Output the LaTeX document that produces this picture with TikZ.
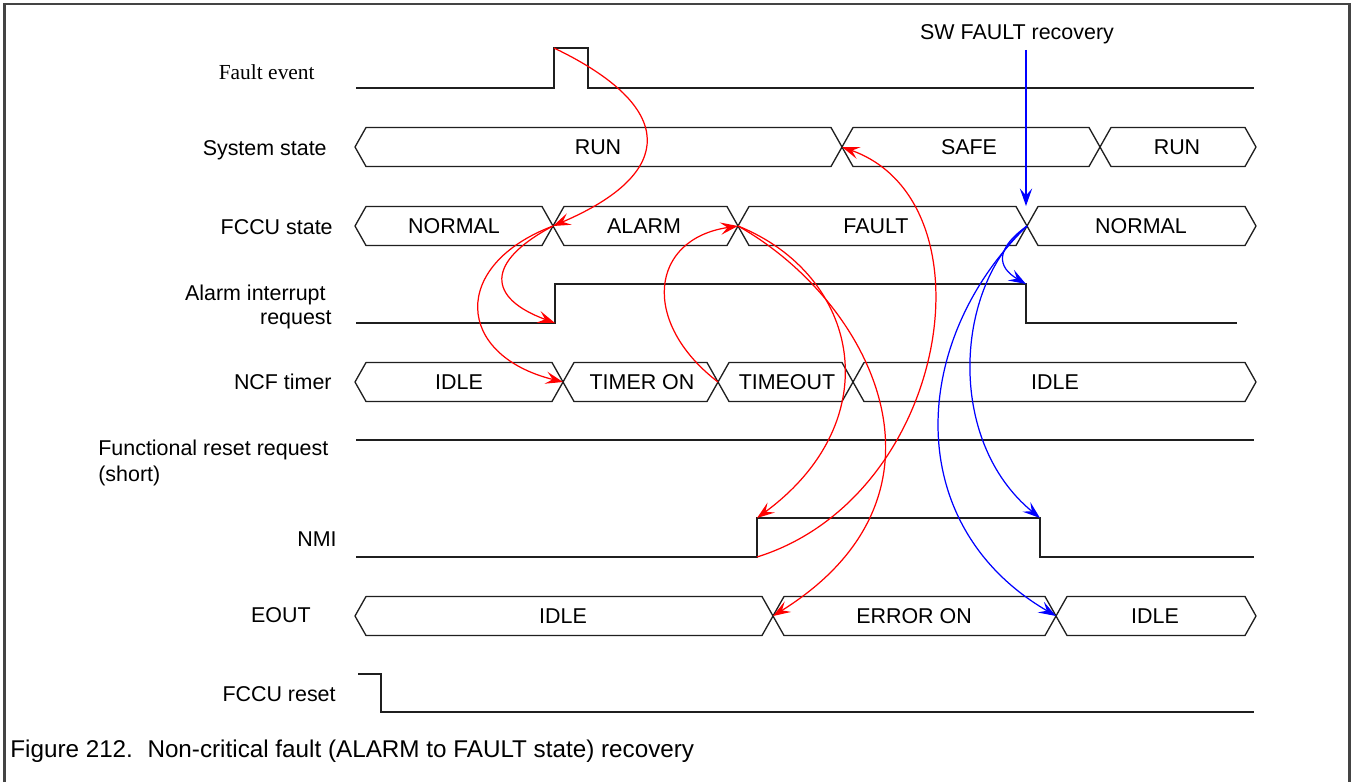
\documentclass[tikz,border=0pt]{standalone}
\usepackage{fontspec}
\setmainfont{Liberation Sans}
\newfontfamily\serifface{Liberation Serif}
\usetikzlibrary{arrows.meta}
\definecolor{framegray}{RGB}{68,68,68}

% geometry of a bus (hexagon) segment
\newcommand\busslant{11}
\newcommand\bushalf{19.5}
% #1 name, #2 left x, #3 right x, #4 centre y, #5 text x, #6 text
\newcommand\busstate[6]{%
  \draw[busline] (#2,#4) -- ({#2+\busslant},{#4-\bushalf}) -- ({#3-\busslant},{#4-\bushalf})
    -- (#3,#4) -- ({#3-\busslant},{#4+\bushalf}) -- ({#2+\busslant},{#4+\bushalf}) -- cycle;
  \node[statetext] (#1) at (#5,{#4+7.5}) {#6};
}

\begin{document}
\begin{tikzpicture}[x=0.02cm,y=-0.02cm,
  sig/.style={line width=0.8pt, draw=black!88, line join=miter},
  busline/.style={line width=0.75pt, draw=black!88, line join=round},
  statetext/.style={font=\fontsize{12.2}{14}\selectfont, inner sep=0pt, anchor=base},
  lbl/.style={font=\fontsize{12.2}{14}\selectfont, inner sep=0pt, anchor=base east},
  tip/.style={-{Stealth[length=10pt,width=7pt,inset=4pt]}},
  cause/.style={tip, draw=red, line width=0.7pt},
  recov/.style={tip, draw=blue, line width=0.7pt},
  frame/.style={draw=framegray, line width=1.4pt},
]
\useasboundingbox (0,0) rectangle (1352,782);
\fill[white] (0,0) rectangle (1352,782);

% outer frame
\draw[frame] (4.5,782) -- (4.5,4) -- (1349.5,4) -- (1349.5,782);

% signal names
\node[lbl, font=\serifface\fontsize{12.2}{14}\selectfont] (nFault) at (315,79.5) {Fault event};
\node[lbl] (nSys) at (327,155) {System state};
\node[lbl] (nFccu) at (333,234) {FCCU state};
\node[lbl] (nAir1) at (326,300) {Alarm interrupt};
\node[lbl] (nAir2) at (332,324) {request};
\node[lbl] (nNcf) at (332,389.5) {NCF timer};
\node[lbl, anchor=base west] (nFrr1) at (98,455) {Functional reset request};
\node[lbl, anchor=base west] (nFrr2) at (98,481) {(short)};
\node[lbl] (nNmi) at (337,546) {NMI};
\node[lbl] (nEout) at (311,622) {EOUT};
\node[lbl] (nRst) at (336,701) {FCCU reset};
\node[statetext] (sw) at (1017,39) {SW FAULT recovery};

% single-bit waveforms
\draw[sig] (356,88) -- (554,88) -- (554,48) -- (588,48) -- (588,88) -- (1254,88);
\draw[sig] (356,323) -- (555,323) -- (555,284) -- (1026,284) -- (1026,323) -- (1237,323);
\draw[sig] (356,440) -- (1254,440);
\draw[sig] (356,557) -- (757,557) -- (757,518) -- (1040,518) -- (1040,557) -- (1254,557);
\draw[sig] (358,674) -- (381,674) -- (381,712) -- (1254,712);

% bus waveforms
\busstate{sRun}{355}{842}{147}{598}{RUN}
\busstate{sSafe}{842}{1100}{147}{969}{SAFE}
\busstate{sRun2}{1100}{1256}{147}{1177}{RUN}

\busstate{fNormal}{355}{553}{226}{454}{NORMAL}
\busstate{fAlarm}{553}{738}{226}{644}{ALARM}
\busstate{fFault}{738}{1027}{226}{876}{FAULT}
\busstate{fNormal2}{1027}{1256}{226}{1141}{NORMAL}

\busstate{tIdle}{355}{563}{382}{459}{IDLE}
\busstate{tOn}{563}{718}{382}{642}{TIMER ON}
\busstate{tOut}{718}{853}{382}{787}{TIMEOUT}
\busstate{tIdle2}{853}{1256}{382}{1055}{IDLE}

\busstate{eIdle}{355}{773}{616}{563}{IDLE}
\busstate{eOn}{773}{1056}{616}{914}{ERROR ON}
\busstate{eIdle2}{1056}{1256}{616}{1155}{IDLE}

% transition points
\coordinate (pulse) at (554,48);
\coordinate (sysA) at (842,147);
\coordinate (fccuA) at (553,226);
\coordinate (fccuB) at (738,226);
\coordinate (fccuC) at (1027,226);
\coordinate (fccuCtop) at (1026,206);
\coordinate (airUp) at (555,323);
\coordinate (airDn) at (1026,284);
\coordinate (ncfA) at (563,382);
\coordinate (ncfB) at (718,382);
\coordinate (nmiUp) at (757,518);
\coordinate (nmiLo) at (757,557);
\coordinate (nmiDn) at (1040,518);
\coordinate (eoutA) at (773,616);
\coordinate (eoutB) at (1056,616);

% fault propagation
\draw[cause] (pulse) .. controls +(123,59) and +(124,-53) .. (fccuA);
\draw[cause] (fccuA) .. controls +(-68,36) and +(-68,-25) .. (airUp);
\draw[cause] (fccuA) .. controls +(-103,39) and +(-108,-27) .. (ncfA);
\draw[cause] (ncfB) .. controls +(-78,-60) and +(-88,13) .. (fccuB);
\draw[cause] (fccuB) .. controls +(122,49) and +(133,-98) .. (nmiUp);
\draw[cause] (fccuB) .. controls +(132,74) and +(197,-123) .. (eoutA);
\draw[cause] (nmiLo) .. controls +(192,-60) and +(154,55) .. (sysA);

% software recovery
\draw[recov] (sw.south -| fccuCtop) ++(0,6) -- (fccuCtop);
\draw[recov] (fccuC) .. controls +(-32,23) and +(-29,-17) .. (airDn);
\draw[recov] (fccuC) .. controls +(-72,60) and +(-95,-78) .. (nmiDn);
\draw[recov] (fccuC) .. controls +(-117,114) and +(-156,-91) .. (eoutB);

% caption
\node[font=\fontsize{13.8}{16}\selectfont, text=black, inner sep=0pt, anchor=base west] (cap)
  at (10,757) {Figure 212.\hspace{0.6em}Non-critical fault (ALARM to FAULT state) recovery};
\end{tikzpicture}
\end{document}
